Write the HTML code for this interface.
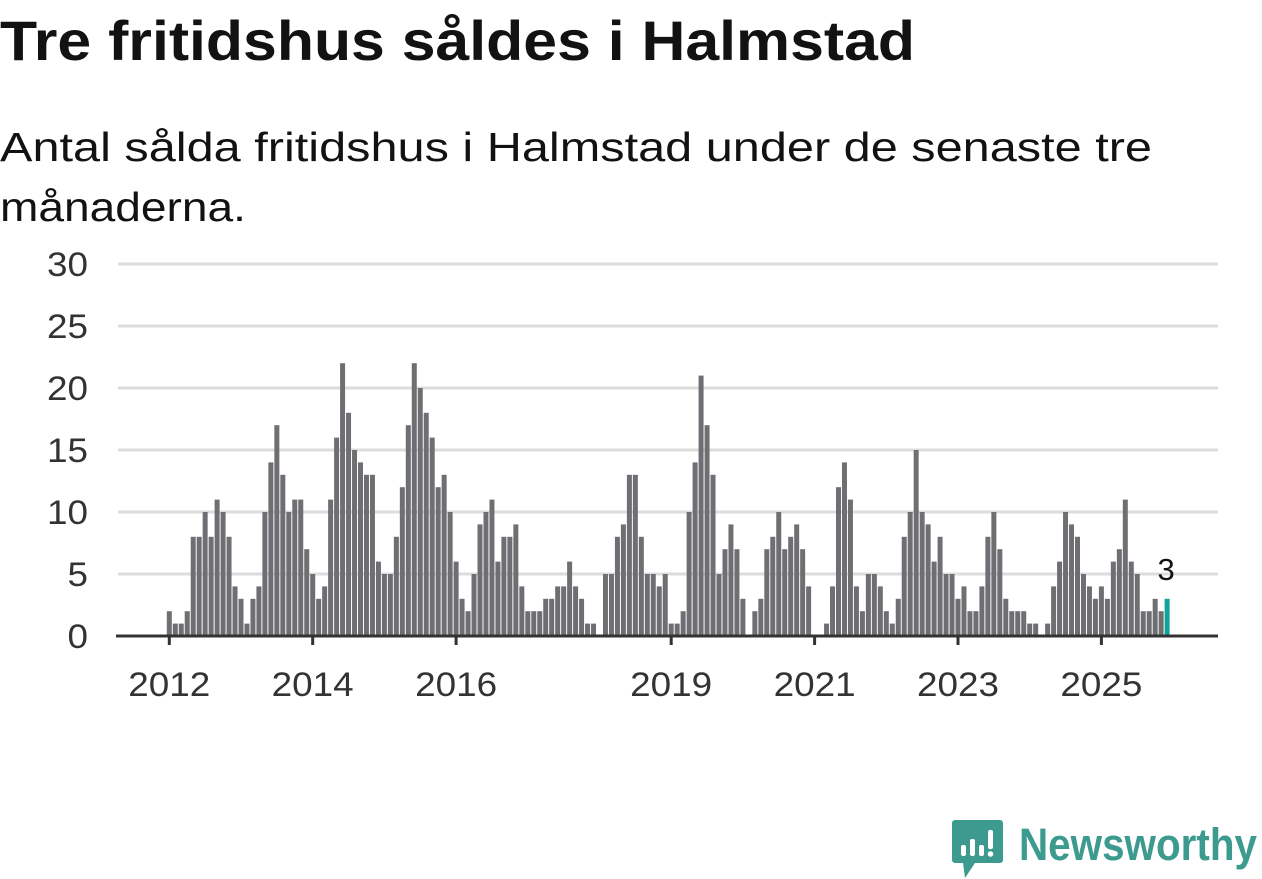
<!DOCTYPE html>
<html><head><meta charset="utf-8"><style>
html,body{margin:0;padding:0;background:#fff;}
svg{display:block;font-family:"Liberation Sans",sans-serif;}
</style></head><body>
<svg id="chart" width="1262" height="879" viewBox="0 0 1262 879" xmlns="http://www.w3.org/2000/svg">
<text x="0" y="60" font-size="56" font-weight="bold" fill="#121212" textLength="915" lengthAdjust="spacingAndGlyphs">Tre fritidshus såldes i Halmstad</text>
<text x="0" y="161" font-size="41" fill="#121212" textLength="1152" lengthAdjust="spacingAndGlyphs">Antal sålda fritidshus i Halmstad under de senaste tre</text>
<text x="0" y="221" font-size="41" fill="#121212" textLength="246" lengthAdjust="spacingAndGlyphs">månaderna.</text>
<g id="grid"></g>
<g id="bars"></g>
<g id="xaxis"></g>
<g>
<path d="M955 820 h45 a3 3 0 0 1 3 3 v37 a3 3 0 0 1 -3 3 h-25 l-10 15 l-2 -15 h-8 a3 3 0 0 1 -3 -3 v-37 a3 3 0 0 1 3 -3z" fill="#3d9a8f"/>
<rect x="961" y="845" width="5" height="11" rx="2" fill="#fff"/>
<rect x="970" y="839" width="5" height="17" rx="2" fill="#fff"/>
<rect x="979" y="845" width="5" height="11" rx="2" fill="#fff"/>
<rect x="988" y="830" width="5" height="19" rx="2" fill="#fff"/>
<circle cx="990.5" cy="854" r="2.8" fill="#fff"/>
<text x="1019" y="860" font-size="45" font-weight="bold" fill="#3d9a8f" textLength="238" lengthAdjust="spacingAndGlyphs">Newsworthy</text>
</g>
</svg>
<script>
const yTicks = [0, 5, 10, 15, 20, 25, 30];
const yearLabels = ["2012", "2014", "2016", "2019", "2021", "2023", "2025"];
const startYear = 2012;
const values2012 = [2,1,1,2,8,8,10,8,11,10,8,4];
const values2013 = [3,1,3,4,10,14,17,13,10,11,11,7];
const values2014 = [5,3,4,11,16,22,18,15,14,13,13,6];
const values2015 = [5,5,8,12,17,22,20,18,16,12,13,10];
const values2016 = [6,3,2,5,9,10,11,6,8,8,9,4];
const values2017 = [2,2,2,3,3,4,4,6,4,3,1,1];
const values2018 = [0,5,5,8,9,13,13,8,5,5,4,5];
const values2019 = [1,1,2,10,14,21,17,13,5,7,9,7];
const values2020 = [3,0,2,3,7,8,10,7,8,9,7,4];
const values2021 = [0,0,1,4,12,14,11,4,2,5,5,4];
const values2022 = [2,1,3,8,10,15,10,9,6,8,5,5];
const values2023 = [3,4,2,2,4,8,10,7,3,2,2,2];
const values2024 = [1,1,0,1,4,6,10,9,8,5,4,3];
const values2025 = [4,3,6,7,11,6,5,2,2,3,2,3];

const values = [].concat(values2012,values2013,values2014,values2015,values2016,values2017,values2018,values2019,values2020,values2021,values2022,values2023,values2024,values2025);
const NS = "http://www.w3.org/2000/svg";
const x0 = 169.3, monthW = 5.975, y0 = 636, yUnit = 12.4;
const xScale = i => x0 + i * monthW;
const yScale = v => y0 - v * yUnit;

const grid = document.getElementById('grid');
yTicks.forEach(t => {
  if (t > 0) {
    const l = document.createElementNS(NS, 'line');
    
    
    l.setAttribute('x1', 118); l.setAttribute('x2', 1218);
    l.setAttribute('y1', yScale(t)); l.setAttribute('y2', yScale(t));
    l.setAttribute('stroke', '#dcdcdc'); l.setAttribute('stroke-width', 3);
    grid.appendChild(l);
  }
  const tx = document.createElementNS(NS, 'text');
  
  
  tx.setAttribute('x', 88); tx.setAttribute('y', yScale(t) + 12);
  tx.setAttribute('text-anchor', 'end'); tx.setAttribute('font-size', 34);
  tx.setAttribute('fill', '#333');
  const s = String(t);
  tx.setAttribute('textLength', s.length * 20.5);
  tx.setAttribute('lengthAdjust', 'spacingAndGlyphs');
  tx.textContent = t;
  grid.appendChild(tx);
});

const bars = document.getElementById('bars');
values.forEach((v, i) => {
  if (v <= 0) return;
  const last = i === values.length - 1;
  const r = document.createElementNS(NS, 'rect');
  
  
  r.setAttribute('x', xScale(i) - 2.5);
  r.setAttribute('width', 5);
  r.setAttribute('y', yScale(v));
  r.setAttribute('height', v * yUnit);
  r.setAttribute('fill', last ? '#0fa39a' : '#6f6e73');
  bars.appendChild(r);
  if (last) {
    const t = document.createElementNS(NS, 'text');
    
    
    t.setAttribute('x', xScale(i) - 1); t.setAttribute('y', yScale(v) - 19);
    t.setAttribute('text-anchor', 'middle'); t.setAttribute('font-size', 31);
    t.setAttribute('fill', '#121212');
    t.textContent = v;
    bars.appendChild(t);
  }
});

const xaxis = document.getElementById('xaxis');
const axisLine = document.createElementNS(NS, 'line');


axisLine.setAttribute('x1', 116); axisLine.setAttribute('x2', 1218);
axisLine.setAttribute('y1', 636); axisLine.setAttribute('y2', 636);
axisLine.setAttribute('stroke', '#333'); axisLine.setAttribute('stroke-width', 3);
xaxis.appendChild(axisLine);
yearLabels.forEach(y => {
  const xi = xScale((parseInt(y) - startYear) * 12);
  const tk = document.createElementNS(NS, 'line');
  
  
  tk.setAttribute('x1', xi); tk.setAttribute('x2', xi);
  tk.setAttribute('y1', 636); tk.setAttribute('y2', 645);
  tk.setAttribute('stroke', '#333'); tk.setAttribute('stroke-width', 3);
  xaxis.appendChild(tk);
  const t = document.createElementNS(NS, 'text');
  
  
  t.setAttribute('x', xi); t.setAttribute('y', 696);
  t.setAttribute('text-anchor', 'middle'); t.setAttribute('font-size', 34);
  t.setAttribute('textLength', 82);
  t.setAttribute('lengthAdjust', 'spacingAndGlyphs');
  t.setAttribute('fill', '#333');
  t.textContent = y;
  xaxis.appendChild(t);
});
</script>
</body></html>
